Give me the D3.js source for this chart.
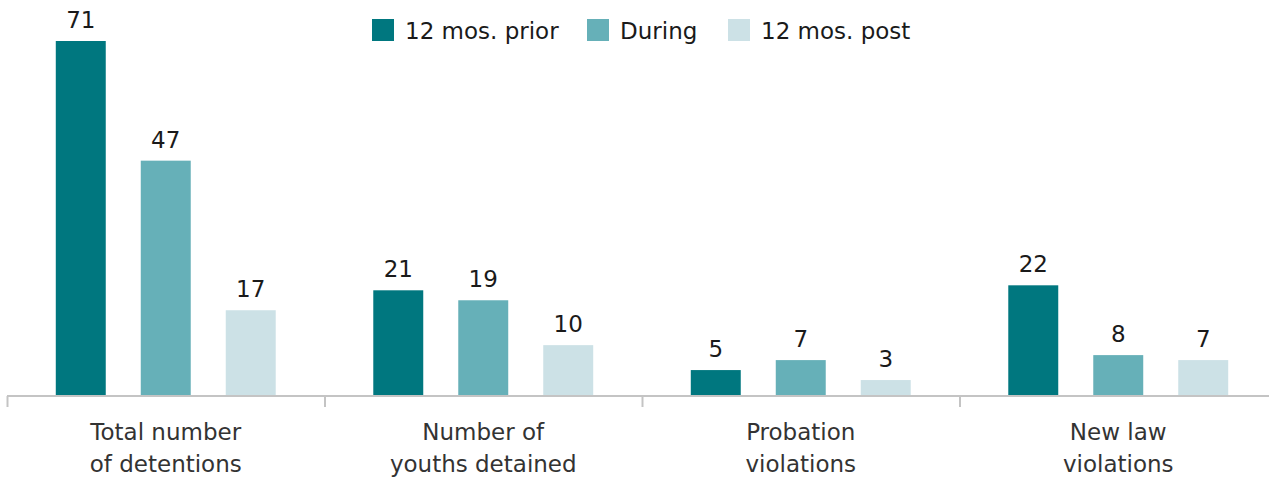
<!DOCTYPE html>
<html>
<head>
<meta charset="utf-8">
<script src="https://cdn.jsdelivr.net/npm/d3@7"></script>
<style>
  body { margin: 0; background: #fff; }
  text { font-family: "DejaVu Sans", sans-serif; }
</style>
</head>
<body>
<svg id="chart"></svg>
<script>
// data
const categories = [
  ["Total number", "of detentions"],
  ["Number of", "youths detained"],
  ["Probation", "violations"],
  ["New law", "violations"]
];
const seriesNames = ["12 mos. prior", "During", "12 mos. post"];
const prior  = [71, 21, 5, 22];
const during = [47, 19, 7, 8];
const post   = [17, 10, 3, 7];

const colors = ["#00777f", "#66b0b8", "#cce1e6"];

const W = 1269, H = 477;
const baseY = 395;

const svg = d3.select("#chart")
  .attr("width", W)
  .attr("height", H);

const rows = categories.map((c, i) => ({
  key: i,
  values: [prior[i], during[i], post[i]]
}));

// scales
const x0 = d3.scaleBand()
  .domain(d3.range(categories.length))
  .range([7, 1277])
  .padding(0);

const x1 = d3.scaleBand()
  .domain(d3.range(seriesNames.length))
  .range([0, x0.bandwidth()])
  .paddingInner(0.412)
  .paddingOuter(0.574);

const y = d3.scaleLinear()
  .domain([0, 71])
  .range([baseY, 41]);

// bars
const groups = svg.append("g").selectAll("g")
  .data(rows)
  .join("g")
    .attr("transform", d => "translate(" + x0(d.key) + ",0)");

groups.selectAll("rect")
  .data(d => d.values.map((v, j) => ({j: j, v: v})))
  .join("rect")
    .attr("x", d => x1(d.j))
    .attr("y", d => y(d.v))
    .attr("width", x1.bandwidth())
    .attr("height", d => baseY - y(d.v))
    .attr("fill", d => colors[d.j]);

groups.selectAll("text.val")
  .data(d => d.values.map((v, j) => ({j: j, v: v})))
  .join("text")
    .attr("class", "val")
    .attr("x", d => x1(d.j) + x1.bandwidth() / 2)
    .attr("y", d => y(d.v) - 13)
    .attr("text-anchor", "middle")
    .attr("fill", "#1a1a1a")
    .style("font-size", "23px")
    .text(d => d.v);

// x axis
const axis = svg.append("g")
  .attr("transform", "translate(0," + (baseY + 1) + ")");

axis.append("line")
  .attr("x1", 7).attr("x2", W)
  .attr("stroke", "#c4c4c4")
  .attr("stroke-width", 2);

axis.selectAll("line.tick")
  .data(d3.range(categories.length))
  .join("line")
    .attr("class", "tick")
    .attr("x1", d => x0(d) + 0.5)
    .attr("x2", d => x0(d) + 0.5)
    .attr("y1", 0)
    .attr("y2", 11)
    .attr("stroke", "#c4c4c4")
    .attr("stroke-width", 2);

const lbl = axis.selectAll("text.cat")
  .data(categories)
  .join("text")
    .attr("class", "cat")
    .attr("text-anchor", "middle")
    .attr("fill", "#333")
    .style("font-size", "23px");

lbl.selectAll("tspan")
  .data((d, i) => d.map(s => ({s: s, i: i})))
  .join("tspan")
    .attr("x", d => x0(d.i) + x0.bandwidth() / 2)
    .attr("y", (d, k) => 44 + k * 32)
    .text(d => d.s);

// legend
const legendX = [372, 587, 728];
const legend = svg.append("g").selectAll("g")
  .data(seriesNames)
  .join("g")
    .attr("transform", (d, i) => "translate(" + legendX[i] + ",19)");

legend.append("rect")
  .attr("width", 22)
  .attr("height", 22)
  .attr("fill", (d, i) => colors[i]);

legend.append("text")
  .attr("x", 33)
  .attr("y", 20)
  .attr("fill", "#1a1a1a")
  .style("font-size", "23px")
  .text(d => d);
</script>
</body>
</html>
